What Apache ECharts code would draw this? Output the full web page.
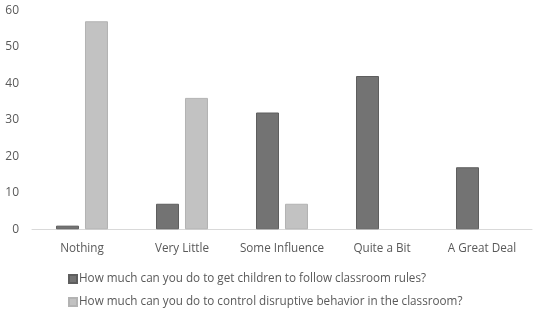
<!DOCTYPE html>
<html><head><meta charset="utf-8">
<script src="https://cdn.jsdelivr.net/npm/echarts@6/dist/echarts.min.js"></script>
<style>html,body{margin:0;padding:0;background:#fff}#c{width:536px;height:314px}</style>
</head><body><div id="c"></div>
<script>
const categories = ['Nothing', 'Very Little', 'Some Influence', 'Quite a Bit', 'A Great Deal'];
const seriesNames = ['How much can you do to get children to follow classroom rules?',
  'How much can you do to control disruptive behavior in the classroom?'];
const rulesValues = [1, 7, 32, 42, 17];
const disruptiveValues = [57, 36, 7, null, null];

const chart = echarts.init(document.getElementById('c'), null, {renderer: 'canvas'});
const font = 'Open Sans';
chart.setOption({
  animation: false,
  backgroundColor: '#fff',
  grid: {left: 32, right: 4, top: 10.3, bottom: 84.7, containLabel: false},
  legend: {
    orient: 'vertical', left: 68, top: 273, height: 40, padding: 0,
    itemWidth: 8, itemHeight: 8, itemGap: 11,
    icon: 'rect',
    textStyle: {color: '#595959', fontSize: 11.7, fontFamily: font, padding: [0,0,0,-3]},
    data: seriesNames
  },
  xAxis: {
    type: 'category', data: categories,
    axisLine: {lineStyle: {color: '#d9d9d9', width: 1}},
    axisTick: {show: false},
    axisLabel: {color: '#595959', fontSize: 11.7, fontFamily: font, margin: 13, interval: 0}
  },
  yAxis: {
    type: 'value', min: 0, max: 60, interval: 10,
    splitLine: {show: false}, axisLine: {show: false}, axisTick: {show: false},
    axisLabel: {color: '#595959', fontSize: 12, fontFamily: font, margin: 13}
  },
  series: [
    {name: seriesNames[0], type: 'bar', data: rulesValues, barWidth: 23, barGap: '26%',
     itemStyle: {color: '#737373', borderColor: '#5e5e5e', borderWidth: 1}},
    {name: seriesNames[1], type: 'bar', data: disruptiveValues, barWidth: 23,
     itemStyle: {color: '#c2c2c2', borderColor: '#b3b3b3', borderWidth: 1}}
  ]
});
</script></body></html>
